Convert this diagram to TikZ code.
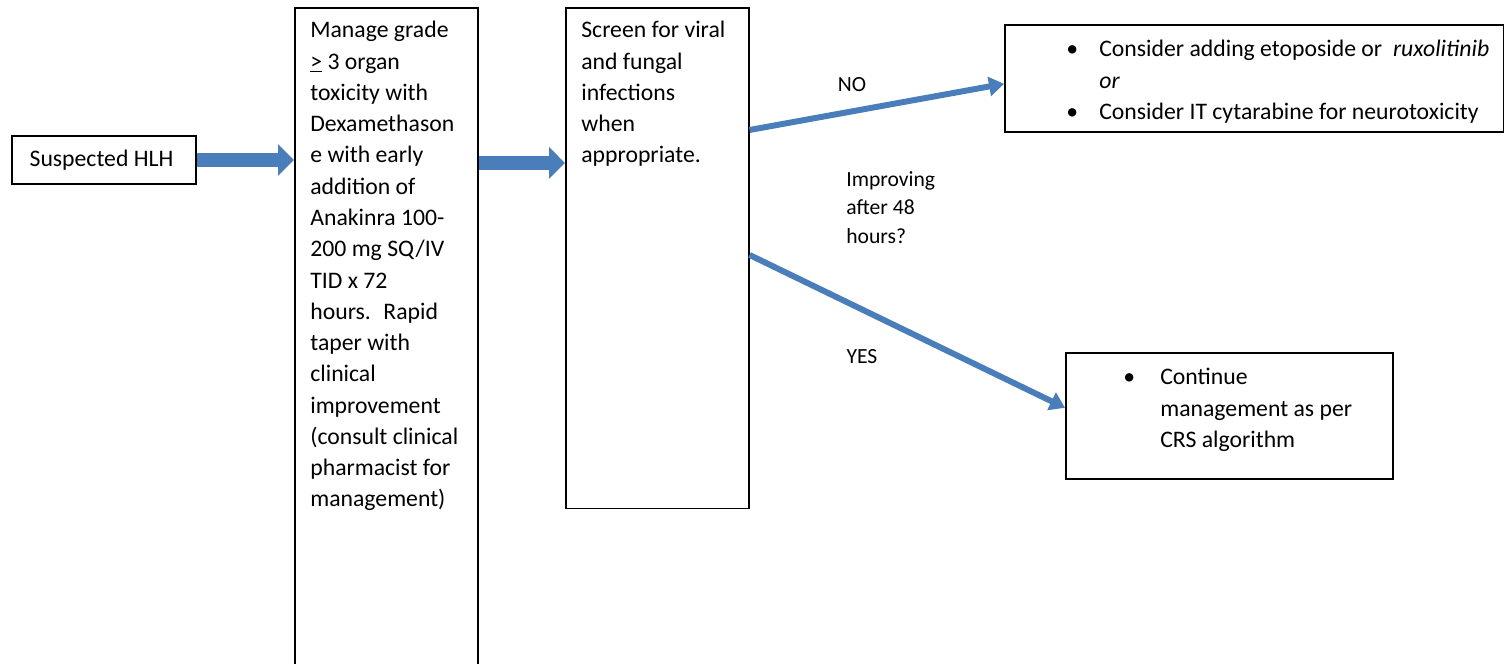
\documentclass[tikz,border=0pt]{standalone}
\usepackage{fontspec}
\setmainfont{Carlito}
\usetikzlibrary{arrows.meta, positioning}
\definecolor{flowblue}{RGB}{74,126,187}

\begin{document}
\begin{tikzpicture}[x=0.02cm, y=-0.02cm]
    \tikzset{
      box/.style={draw, shape=rectangle,
                  line width=0.9pt,
                  inner sep=0pt},
      txt/.style={align=left, inner sep=0pt, anchor=north west,
                  font=\fontsize{13.5}{17.8}\selectfont},
      lbl/.style={align=left, inner sep=0pt,
                  font=\fontsize{12.3}{16.2}\selectfont},
      bigarrow/.style={draw=flowblue, line width=8pt,
                  -{Triangle[length=0.32cm, width=0.62cm]}},
      branch/.style={draw=flowblue, line width=3.4pt,
                  -{Triangle[length=0.3cm, width=0.38cm]}}
    }
    \clip (0,0) rectangle (1505,663);

    \node[box, minimum width=3.68cm, minimum height=0.96cm,
          font=\fontsize{13.5}{17.8}\selectfont] (hlh) at (104,160) {Suspected HLH\hspace*{0.1cm}};

    \node[box, anchor=north west, minimum width=3.66cm, minimum height=13.5cm] (manage) at (294,7) {};
    \node[txt] (managetext) at (310,21) {Manage grade\\
      \underline{>} 3 organ\\toxicity with\\Dexamethason\\e with early\\addition of\\
      Anakinra 100-\\200 mg SQ/IV\\TID x 72\\hours.~ Rapid\\taper with\\clinical\\
      improvement\\(consult clinical\\pharmacist for\\management)};

    \node[box, anchor=north west, minimum width=3.66cm, minimum height=10.02cm] (screen) at (565,7) {};
    \node[txt] (screentext) at (581,21) {Screen for viral\\and fungal\\infections\\when\\appropriate.};

    \node[box, anchor=north west, minimum width=9.98cm, minimum height=2.14cm] (consider) at (1004,24) {};
    \node[txt] (considertext) at (1066,40) {%
      \makebox[0.66cm][l]{\textbullet}Consider adding etoposide or~ \textit{ruxolitinib}\\
      \hspace*{0.66cm}\textit{or}\\
      \makebox[0.66cm][l]{\textbullet}Consider IT cytarabine for neurotoxicity};

    \node[box, anchor=north west, minimum width=6.54cm, minimum height=2.52cm] (crs) at (1065,352) {};
    \node[txt] (crstext) at (1123,368) {%
      \makebox[0.74cm][l]{\textbullet}Continue\\
      \hspace*{0.74cm}management as per\\
      \hspace*{0.74cm}CRS algorithm};

    % branch labels
    \node[lbl] (no) at (852,85) {NO};
    \node[lbl, anchor=north west] (improving) at (846,171) {Improving\\after 48\\hours?};
    \node[lbl] (yes) at (862,357) {YES};

    \path[bigarrow] (hlh.east) -- (hlh.east -| manage.west);
    \path[bigarrow] ([yshift=-3.12cm]manage.north east) -- ([yshift=-3.12cm]screen.north west);
    \path[branch] ([yshift=-2.46cm]screen.north east) -- ([yshift=-0.11cm]consider.west);
    \path[branch] ([yshift=-4.96cm]screen.north east) -- ([yshift=0.16cm]crs.west);
\end{tikzpicture}
\end{document}
